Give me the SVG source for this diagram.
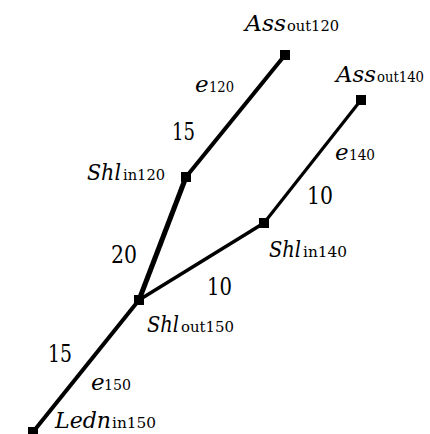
<svg xmlns="http://www.w3.org/2000/svg" width="430" height="434" viewBox="0 0 430 434">
<style>
.m{font-family:'DejaVu Serif','Liberation Serif',serif;font-style:italic;font-size:23px;fill:#000}
.s{font-family:'DejaVu Serif','Liberation Serif',serif;font-size:15px;fill:#000}
.n{font-family:'DejaVu Serif','Liberation Serif',serif;font-size:24px;fill:#000}
.e{stroke:#000;stroke-linecap:butt;fill:none}
.nd{fill:#000}
</style>
<rect width="430" height="434" fill="#fff"/>
<g id="connectors">
<line class="e" x1="285" y1="55" x2="186" y2="177" stroke-width="4"/>
<line class="e" x1="186" y1="177" x2="139" y2="300" stroke-width="5"/>
<line class="e" x1="361" y1="100" x2="264" y2="223" stroke-width="3.2"/>
<line class="e" x1="264" y1="223" x2="139" y2="300" stroke-width="3.5"/>
<line class="e" x1="139" y1="300" x2="33" y2="432" stroke-width="4"/>
<text class="m" x="195" y="92">e</text><text class="s" x="209" y="92" textLength="25" lengthAdjust="spacingAndGlyphs">120</text>
<text class="n" x="172" y="140" textLength="23" lengthAdjust="spacingAndGlyphs">15</text>
<text class="m" x="335" y="160">e</text><text class="s" x="349" y="160" textLength="26" lengthAdjust="spacingAndGlyphs">140</text>
<text class="n" x="307" y="204" textLength="26" lengthAdjust="spacingAndGlyphs">10</text>
<text class="n" x="111" y="263" textLength="26" lengthAdjust="spacingAndGlyphs">20</text>
<text class="n" x="207" y="295" textLength="25" lengthAdjust="spacingAndGlyphs">10</text>
<text class="n" x="48" y="362" textLength="24" lengthAdjust="spacingAndGlyphs">15</text>
<text class="m" x="91" y="390">e</text><text class="s" x="104" y="390" textLength="27" lengthAdjust="spacingAndGlyphs">150</text>
</g>
<g id="Ass_out120">
<rect class="nd" x="280" y="50" width="10" height="10"/>
<text class="m" x="245" y="31" textLength="41" lengthAdjust="spacingAndGlyphs">Ass</text><text class="s" x="287" y="31" textLength="52" lengthAdjust="spacingAndGlyphs">out120</text>
</g>
<g id="Ass_out140">
<rect class="nd" x="356" y="95" width="10" height="10"/>
<text class="m" x="336" y="82" textLength="40" lengthAdjust="spacingAndGlyphs">Ass</text><text class="s" x="377" y="82" textLength="47" lengthAdjust="spacingAndGlyphs">out140</text>
</g>
<g id="Shl_in120">
<rect class="nd" x="181" y="172" width="10" height="10"/>
<text class="m" x="87" y="180" textLength="34" lengthAdjust="spacingAndGlyphs">Shl</text><text class="s" x="123" y="180" textLength="42" lengthAdjust="spacingAndGlyphs">in120</text>
</g>
<g id="Shl_in140">
<rect class="nd" x="259" y="218" width="10" height="10"/>
<text class="m" x="269" y="257" textLength="32" lengthAdjust="spacingAndGlyphs">Shl</text><text class="s" x="303" y="257" textLength="44" lengthAdjust="spacingAndGlyphs">in140</text>
</g>
<g id="Shl_out150">
<rect class="nd" x="134" y="295" width="10" height="10"/>
<text class="m" x="147" y="332" textLength="32" lengthAdjust="spacingAndGlyphs">Shl</text><text class="s" x="181" y="332" textLength="53" lengthAdjust="spacingAndGlyphs">out150</text>
</g>
<g id="Ledn_in150">
<rect class="nd" x="28" y="427" width="10" height="10"/>
<text class="m" x="55" y="428" textLength="56" lengthAdjust="spacingAndGlyphs">Ledn</text><text class="s" x="112" y="428" textLength="44" lengthAdjust="spacingAndGlyphs">in150</text>
</g>
</svg>
